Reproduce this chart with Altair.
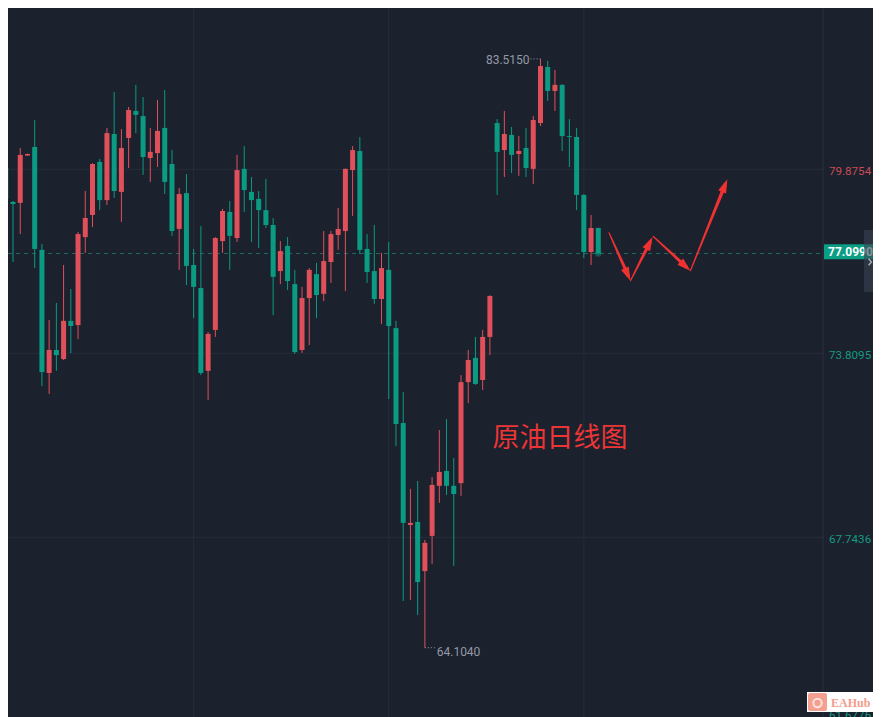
import math
import altair as alt
import pandas as pd

# ---------------- data ----------------
opens = [
    79.92, 78.80, 78.77, 80.33, 80.61, 77.22, 73.16, 73.92, 73.62, 74.88,
    74.74, 77.64, 78.37, 80.12, 78.86, 81.04, 79.13, 80.91, 81.80, 81.63,
    80.25, 80.41, 81.24, 80.05, 77.91, 79.09, 76.72, 75.96, 73.23, 74.58,
    77.51, 78.47, 77.61, 79.89, 79.13, 78.90, 78.53, 78.04, 76.52, 77.35,
    76.09, 73.92, 75.63, 76.42, 75.77, 76.82, 77.71, 77.84, 79.85, 80.48,
    77.25, 76.52, 75.60, 76.56, 74.64, 71.51, 68.15, 68.25, 66.63, 67.79,
    69.44, 69.93, 69.44, 69.53, 72.86, 73.66, 72.93, 74.35, 81.40, 80.51,
    81.01, 80.38, 80.58, 79.89, 81.40, 83.25, 82.46, 82.66, 80.97, 80.94,
    79.03, 77.15, 77.94,
]
highs = [
    80.02, 78.83, 80.58, 80.39, 81.50, 77.41, 74.91, 75.47, 76.72, 75.93,
    77.81, 79.16, 80.08, 80.22, 81.24, 82.42, 81.20, 81.93, 82.66, 82.26,
    81.24, 82.16, 82.49, 80.51, 79.26, 79.72, 77.25, 78.01, 74.51, 77.64,
    78.57, 78.83, 80.35, 80.64, 79.62, 79.16, 79.56, 78.27, 77.51, 77.64,
    76.56, 76.00, 76.62, 76.79, 77.84, 77.84, 78.60, 79.90, 80.64, 80.94,
    77.74, 78.04, 77.12, 77.48, 74.88, 72.53, 69.34, 69.60, 67.66, 69.73,
    71.28, 71.64, 70.36, 73.09, 73.92, 74.35, 74.58, 75.72, 81.53, 81.80,
    81.27, 80.97, 81.24, 81.63, 83.515, 83.45, 83.15, 82.67, 81.53, 81.24,
    79.06, 78.37, 77.95,
]
lows = [
    77.31, 76.82, 77.74, 80.32, 76.62, 72.73, 72.47, 73.23, 73.59, 73.82,
    74.28, 77.12, 77.97, 78.53, 78.70, 78.93, 78.14, 79.92, 81.07, 79.69,
    79.46, 79.95, 79.06, 77.68, 76.56, 76.06, 74.97, 73.09, 72.27, 74.35,
    77.12, 76.56, 77.48, 78.47, 77.48, 77.28, 77.94, 75.07, 76.09, 75.90,
    73.79, 73.82, 74.08, 74.97, 75.53, 76.13, 77.22, 75.86, 78.34, 77.08,
    76.13, 75.44, 74.78, 72.30, 70.75, 65.64, 65.68, 65.18, 64.104, 66.86,
    68.88, 69.14, 66.80, 69.11, 72.17, 72.77, 72.60, 73.75, 79.03, 79.62,
    79.75, 79.66, 79.62, 79.39, 81.30, 82.13, 81.80, 80.48, 79.95, 78.53,
    76.95, 76.72, 77.08,
]
closes = [
    78.90, 78.73, 80.35, 80.38, 77.25, 73.19, 73.92, 73.75, 74.88, 74.71,
    77.74, 78.27, 80.05, 78.86, 81.07, 79.16, 80.58, 81.83, 81.67, 80.28,
    80.45, 81.14, 79.46, 77.84, 79.06, 76.69, 76.00, 73.16, 74.45, 77.61,
    78.50, 77.68, 79.85, 79.19, 78.86, 78.53, 78.04, 76.33, 77.18, 76.19,
    73.85, 75.63, 76.56, 75.73, 76.85, 77.74, 77.91, 79.89, 80.51, 77.22,
    76.49, 75.60, 76.62, 74.71, 71.48, 68.22, 68.22, 66.27, 67.56, 69.47,
    69.90, 69.44, 69.17, 72.86, 73.59, 72.80, 74.35, 75.70, 80.45, 81.04,
    80.35, 80.48, 79.92, 81.50, 83.28, 82.46, 82.66, 80.97, 80.94, 79.03,
    77.15, 77.94, 77.099,
]

grid_levels = [79.8754, 73.8095, 67.7436, 61.6776]
grid_labels = ["79.8754", "73.8095", "67.7436", "61.6776"]
month_breaks = [26, 53, 80]

last_price = 77.099
last_label = "77.0990"
high_idx, high_val, high_label = 74, 83.515, "83.5150"
low_idx, low_val, low_label = 58, 64.104, "64.1040"

title_text = "原油日线图"
title_idx, title_price = 67.35, 71.00

# hand-drawn forecast arrows (candle index, price)
arrow_x0 = [83.49, 86.46, 89.62, 94.75]
arrow_y0 = [77.78, 76.20, 77.66, 76.53]
arrow_x1 = [86.46, 89.51, 94.75, 99.86]
arrow_y1 = [76.20, 77.64, 76.53, 79.55]

# ---------------- styles ----------------
BG = "#1b212d"
GRID = "#262d3a"
SEP = "#2a3140"
RED = "#e0505b"
GREEN = "#0b9b83"
DASH = "#22695f"
LABEL_RED = "#c94b56"
LABEL_GREEN = "#139a83"
GREY_TXT = "#9499a4"
ARROW = "#ee3131"
TITLE = "#ec3535"

W, H = 865, 709
PLOT_W = 815
PX_X = 7.31
X0 = 0.998
X1 = X0 + W / PX_X
Y0, Y1 = 61.820, 85.193
px_x = W / (X1 - X0)
px_y = H / (Y1 - Y0)

xs = alt.Scale(domain=[X0, X1], nice=False, zero=False)
ys = alt.Scale(domain=[Y0, Y1], nice=False, zero=False)

n = len(opens)
candles = pd.DataFrame({
    "i": list(range(n)), "open": opens, "high": highs,
    "low": lows, "close": closes,
})
candles["col"] = [RED if c >= o else GREEN for o, c in zip(opens, closes)]

ccol = alt.Color("col:N", scale=None, legend=None)

wicks = alt.Chart(candles).mark_rule(strokeWidth=1, clip=True).encode(
    x=alt.X("i:Q", scale=xs, axis=None),
    y=alt.Y("low:Q", scale=ys, axis=None),
    y2="high:Q",
    color=ccol,
)
bodies = alt.Chart(candles).mark_bar(size=5, clip=True).encode(
    x=alt.X("i:Q", scale=xs, axis=None),
    y=alt.Y("open:Q", scale=ys, axis=None),
    y2="close:Q",
    color=ccol,
)

grid_df = pd.DataFrame({"level": grid_levels, "label": grid_labels})
grid_df["col"] = [LABEL_RED if v > last_price else LABEL_GREEN for v in grid_levels]

hgrid = alt.Chart(grid_df).mark_rule(color=GRID, strokeWidth=1).encode(
    y=alt.Y("level:Q", scale=ys, axis=None), x=alt.value(0), x2=alt.value(PLOT_W)
)
vgrid = alt.Chart(pd.DataFrame({"i": month_breaks})).mark_rule(color=GRID, strokeWidth=1).encode(
    x=alt.X("i:Q", scale=xs, axis=None), y=alt.value(0), y2=alt.value(H)
)
sep = alt.Chart(pd.DataFrame({"k": [0]})).mark_rule(color=SEP, strokeWidth=1).encode(
    x=alt.value(PLOT_W), y=alt.value(0), y2=alt.value(H)
)

lab_main = alt.Chart(grid_df.iloc[:3]).mark_text(
    align="left", baseline="middle", dy=3, font="Roboto", fontSize=11.6
).encode(
    x=alt.value(821), y=alt.Y("level:Q", scale=ys, axis=None),
    text="label:N", color=alt.Color("col:N", scale=None, legend=None),
)
lab_bottom = alt.Chart(grid_df.iloc[3:]).mark_text(
    align="left", baseline="middle", dy=-5, font="Roboto", fontSize=11.6
).encode(
    x=alt.value(821), y=alt.Y("level:Q", scale=ys, axis=None),
    text="label:N", color=alt.Color("col:N", scale=None, legend=None),
)

lp_df = pd.DataFrame({
    "p": [last_price], "label": [last_label], "i": [n - 1],
    "top": [last_price + 9.2 / px_y], "bot": [last_price - 5.8 / px_y],
})
lp_line = alt.Chart(lp_df).mark_rule(color=DASH, strokeDash=[4, 4], strokeWidth=1).encode(
    y=alt.Y("p:Q", scale=ys, axis=None), x=alt.value(0), x2=alt.value(PLOT_W)
)
lp_glow = alt.Chart(lp_df).mark_point(filled=True, size=40, color=GREEN, opacity=0.45).encode(
    x=alt.X("i:Q", scale=xs, axis=None), y=alt.Y("p:Q", scale=ys, axis=None)
)
lp_box = alt.Chart(lp_df).mark_rect(color="#0a9e84").encode(
    x=alt.value(816), x2=alt.value(W),
    y=alt.Y("top:Q", scale=ys, axis=None), y2="bot:Q",
)
lp_text = alt.Chart(lp_df).mark_text(
    align="left", baseline="middle", dy=-1.5, font="Roboto", fontSize=12,
    fontWeight="bold", color="#ffffff"
).encode(x=alt.value(820), y=alt.Y("p:Q", scale=ys, axis=None), text="label:N")

# scroll handle at the right edge (partly covers the price label, as in the reference)
chev_box = alt.Chart(pd.DataFrame({"k": [0]})).mark_rect(color="#3b4251", opacity=0.6).encode(
    x=alt.value(856), x2=alt.value(W), y=alt.value(222), y2=alt.value(284)
)
chev_mark = alt.Chart(pd.DataFrame({"k": [0]})).mark_point(
    shape="M-0.45,-1L0.45,0L-0.45,1", filled=False, size=40,
    color="#a3a9b3", strokeWidth=1.5, opacity=1
).encode(x=alt.value(862), y=alt.value(254))

# high / low markers
hl_df = pd.DataFrame({
    "x1": [high_idx - 10 / px_x, low_idx],
    "x2": [high_idx, low_idx + 10 / px_x],
    "p": [high_val, low_val],
})
hl_dots = alt.Chart(hl_df).mark_rule(color=GREY_TXT, strokeDash=[1, 2], strokeWidth=1).encode(
    x=alt.X("x1:Q", scale=xs, axis=None), x2="x2:Q", y=alt.Y("p:Q", scale=ys, axis=None)
)
hi_txt = alt.Chart(pd.DataFrame({"x": [high_idx - 11 / px_x], "p": [high_val], "t": [high_label]})).mark_text(
    align="right", baseline="middle", dy=1.5, font="Roboto", fontSize=12, color=GREY_TXT
).encode(x=alt.X("x:Q", scale=xs, axis=None), y=alt.Y("p:Q", scale=ys, axis=None), text="t:N")
lo_txt = alt.Chart(pd.DataFrame({"x": [low_idx + 12 / px_x], "p": [low_val], "t": [low_label]})).mark_text(
    align="left", baseline="middle", dy=4, font="Roboto", fontSize=12, color=GREY_TXT
).encode(x=alt.X("x:Q", scale=xs, axis=None), y=alt.Y("p:Q", scale=ys, axis=None), text="t:N")

title = alt.Chart(pd.DataFrame({"x": [title_idx], "p": [title_price], "t": [title_text]})).mark_text(
    align="left", baseline="middle", font="Noto Sans CJK SC", fontSize=27, color=TITLE
).encode(x=alt.X("x:Q", scale=xs, axis=None), y=alt.Y("p:Q", scale=ys, axis=None), text="t:N")

# arrows: tapered shafts + heads
trail_rows, head_rows = [], []
for s, (a, b, c, d) in enumerate(zip(arrow_x0, arrow_y0, arrow_x1, arrow_y1)):
    dxp = (c - a) * px_x
    dyp = -(d - b) * px_y
    L = math.hypot(dxp, dyp)
    back = 6.0 / L
    ex = c - (c - a) * back
    ey = d - (d - b) * back
    trail_rows.append({"seg": s, "k": 0, "x": a, "y": b, "w": 1.2})
    trail_rows.append({"seg": s, "k": 1, "x": ex, "y": ey, "w": 3.6})
    ang = math.degrees(math.atan2(dxp, -dyp)) % 360
    head_rows.append({"x": c, "y": d, "ang": ang})

trails = alt.Chart(pd.DataFrame(trail_rows)).mark_trail(color=ARROW).encode(
    x=alt.X("x:Q", scale=xs, axis=None), y=alt.Y("y:Q", scale=ys, axis=None),
    size=alt.Size("w:Q", scale=None, legend=None),
    detail="seg:N", order="k:O",
)
heads = alt.Chart(pd.DataFrame(head_rows)).mark_point(
    shape="M0,0L0.75,2.4L-0.75,2.4Z", filled=True, size=130, color=ARROW, opacity=1, strokeWidth=0
).encode(
    x=alt.X("x:Q", scale=xs, axis=None), y=alt.Y("y:Q", scale=ys, axis=None),
    angle=alt.Angle("ang:Q", scale=None),
)

# watermark logo
logo_box = alt.Chart(pd.DataFrame({"k": [0]})).mark_rect(color="#ffffff").encode(
    x=alt.value(799), x2=alt.value(865), y=alt.value(684), y2=alt.value(704)
)
logo_icon = alt.Chart(pd.DataFrame({"k": [0]})).mark_rect(color="#f4a090", cornerRadius=2).encode(
    x=alt.value(800), x2=alt.value(819), y=alt.value(685), y2=alt.value(703)
)
logo_face = alt.Chart(pd.DataFrame({"k": [0]})).mark_point(
    shape="circle", filled=False, size=70, color="#ffffff", strokeWidth=2
).encode(x=alt.value(809.5), y=alt.value(695))
logo_txt = alt.Chart(pd.DataFrame({"t": ["EAHub"]})).mark_text(
    align="left", baseline="middle", font="Liberation Serif", fontSize=12,
    fontWeight="bold", color="#f39b8c"
).encode(x=alt.value(823), y=alt.value(694.5), text="t:N")

chart = alt.layer(
    hgrid, vgrid, sep, lp_line, wicks, bodies, lp_glow,
    hl_dots, hi_txt, lo_txt, title, trails, heads,
    lab_main, lab_bottom, lp_box, lp_text, chev_box, chev_mark,
    logo_box, logo_icon, logo_face, logo_txt,
).properties(
    width=W, height=H, padding=0,
    autosize=alt.AutoSizeParams(type="none"),
    background=BG,
).configure_view(strokeWidth=0)

chart.save("out.html", embed_options={"renderer": "svg", "actions": False})
